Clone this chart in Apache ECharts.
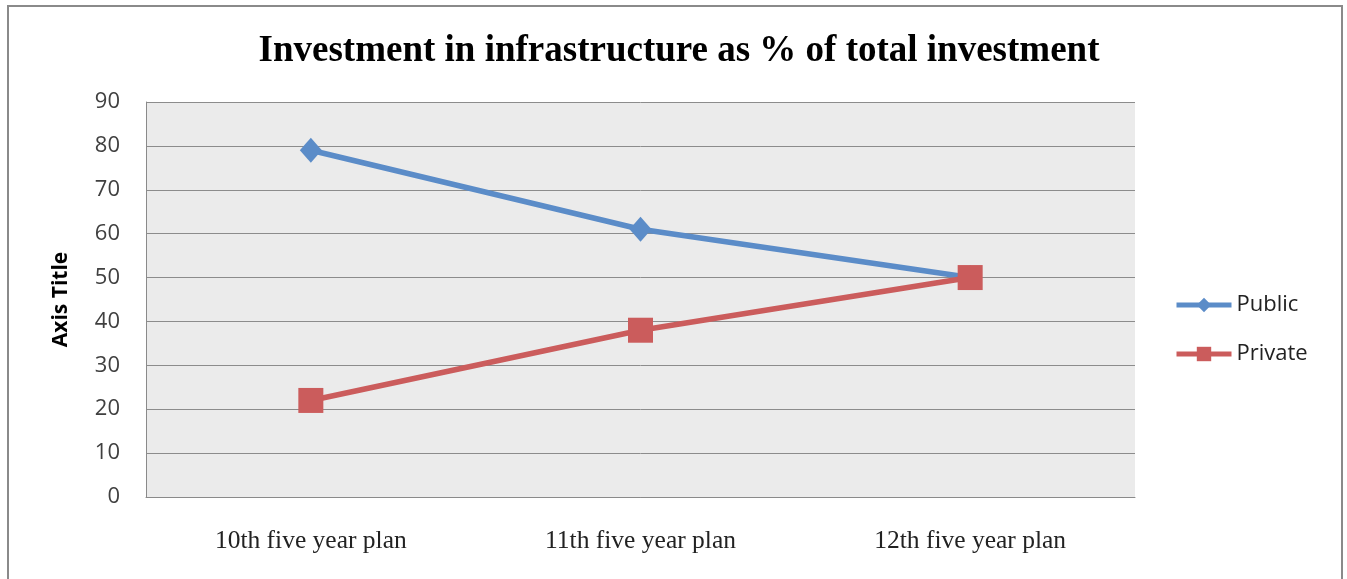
<!DOCTYPE html>
<html>
<head>
<meta charset="utf-8">
<script src="https://cdn.jsdelivr.net/npm/echarts@6/dist/echarts.min.js"></script>
<style>
  html, body { margin: 0; padding: 0; background: #fff; }
  #chart { width: 1347px; height: 579px; }
</style>
</head>
<body>
<div id="chart"></div>
<script>
// Plan periods on the category axis
const categories = ['10th five year plan', '11th five year plan', '12th five year plan'];
// Share of infrastructure investment (%)
const publicShare = [79, 61, 50];
const privateShare = [22, 38, 50];
// Value axis ticks
const yMin = 0;
const yMax = 90;
const yStep = 10;

const chart = echarts.init(document.getElementById('chart'), null, { renderer: 'canvas' });

chart.setOption({
  animation: false,
  backgroundColor: '#ffffff',
  title: {
    text: 'Investment in infrastructure as % of total investment',
    left: 674,
    textAlign: 'center',
    top: 28,
    textStyle: {
      fontFamily: '"Liberation Serif", "Times New Roman", serif',
      fontWeight: 'bold',
      fontSize: 37,
      color: '#000'
    }
  },
  graphic: [{
    type: 'rect',
    shape: { x: 8, y: 6, width: 1334, height: 620 },
    style: { fill: 'none', stroke: '#8a8a8a', lineWidth: 2 },
    silent: true,
    z: 100
  }],
  legend: {
    orient: 'vertical',
    left: 1169,
    top: 289,
    itemWidth: 55,
    itemHeight: 18,
    itemGap: 27,
    lineStyle: { width: 5 },
    textStyle: {
      fontFamily: '"Open Sans", "Noto Sans", sans-serif',
      fontSize: 22,
      color: '#222'
    },
    data: ['Public', 'Private']
  },
  grid: {
    left: 146,
    right: 212,
    top: 102,
    bottom: 82,
    show: true,
    backgroundColor: '#ebebeb',
    borderWidth: 0
  },
  xAxis: {
    type: 'category',
    data: categories,
    boundaryGap: true,
    axisLine: { show: true, lineStyle: { color: '#8a8a8a', width: 1 } },
    axisTick: { show: false },
    axisLabel: {
      margin: 31,
      fontFamily: '"Liberation Serif", "Times New Roman", serif',
      fontSize: 25.5,
      color: '#222'
    }
  },
  yAxis: {
    type: 'value',
    min: yMin,
    max: yMax,
    interval: yStep,
    name: 'Axis Title',
    nameLocation: 'middle',
    nameGap: 74,
    nameRotate: 90,
    nameTextStyle: {
      fontFamily: '"Open Sans", "Noto Sans", sans-serif',
      fontWeight: 'bold',
      fontSize: 21,
      color: '#000'
    },
    axisLine: { show: true, lineStyle: { color: '#8a8a8a', width: 1 } },
    axisTick: { show: false },
    axisLabel: {
      margin: 26,
      fontFamily: '"Open Sans", "Noto Sans", sans-serif',
      fontSize: 22,
      color: '#404040'
    },
    splitLine: { show: true, lineStyle: { color: '#8c8c8c', width: 1 } }
  },
  series: [
    {
      name: 'Public',
      type: 'line',
      data: publicShare,
      symbol: 'diamond',
      symbolSize: [22, 25],
      color: '#5b8cc8',
      lineStyle: { width: 5.5, color: '#5b8cc8' },
      itemStyle: { color: '#5b8cc8' },
      z: 3
    },
    {
      name: 'Private',
      type: 'line',
      data: privateShare,
      symbol: 'rect',
      symbolSize: 25,
      color: '#cb5c5c',
      lineStyle: { width: 5.5, color: '#cb5c5c' },
      itemStyle: { color: '#cb5c5c' },
      z: 4
    }
  ]
});
</script>
</body>
</html>
